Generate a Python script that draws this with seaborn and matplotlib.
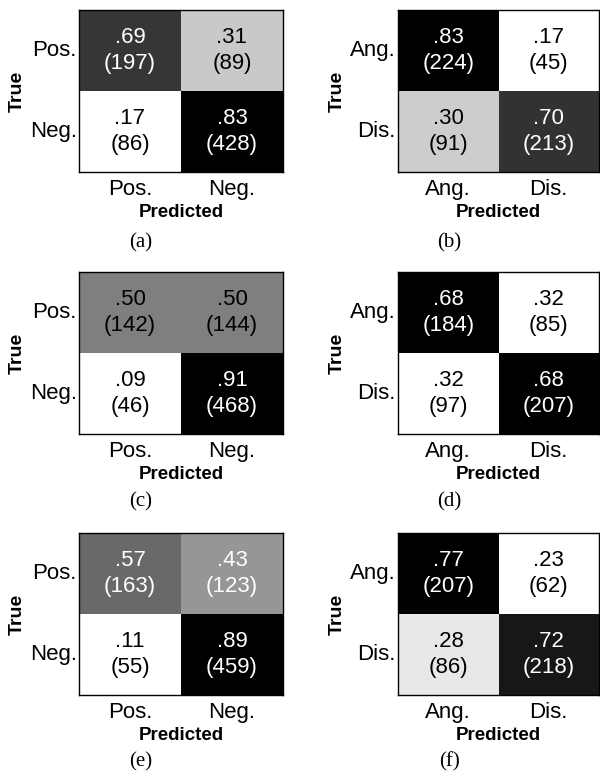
import numpy as np
import matplotlib
matplotlib.use("Agg")
import matplotlib.pyplot as plt
import seaborn as sns

sns.set_style("white")
plt.rcParams['font.family'] = ['Liberation Sans', 'DejaVu Sans']
plt.rcParams['text.color'] = 'black'
plt.rcParams['axes.labelcolor'] = 'black'

# class names
sent_labels = ["Pos.", "Neg."]
emo_labels = ["Ang.", "Dis."]

# rates and counts per panel (rows = true, cols = predicted)
rates_a = [[.69, .31], [.17, .83]]
counts_a = [[197, 89], [86, 428]]
rates_b = [[.83, .17], [.30, .70]]
counts_b = [[224, 45], [91, 213]]
rates_c = [[.50, .50], [.09, .91]]
counts_c = [[142, 144], [46, 468]]
rates_d = [[.68, .32], [.32, .68]]
counts_d = [[184, 85], [97, 207]]
rates_e = [[.57, .43], [.11, .89]]
counts_e = [[163, 123], [55, 459]]
rates_f = [[.77, .23], [.28, .72]]
counts_f = [[207, 62], [86, 218]]

captions = ["(a)", "(b)", "(c)", "(d)", "(e)", "(f)"]

# which cells get white text
white_a = [[1, 0], [0, 1]]
white_b = [[1, 0], [0, 1]]
white_c = [[0, 0], [0, 1]]
white_d = [[1, 0], [0, 1]]
white_e = [[1, 1], [0, 1]]
white_f = [[1, 0], [0, 1]]

panels = [
    (rates_a, counts_a, sent_labels, white_a),
    (rates_b, counts_b, emo_labels, white_b),
    (rates_c, counts_c, sent_labels, white_c),
    (rates_d, counts_d, emo_labels, white_d),
    (rates_e, counts_e, sent_labels, white_e),
    (rates_f, counts_f, emo_labels, white_f),
]

W, H = 600, 778
fig = plt.figure(figsize=(6, 7.78), dpi=100)

col_x = [79, 398]
col_w = [204, 201]
row_top = [10, 272, 533]
row_h = 162
cap_x = [141, 449]
cap_y = [243, 502, 762]

for i, (rates, counts, labels, white) in enumerate(panels):
    r, c = divmod(i, 2)
    x0 = col_x[c]
    y0 = row_top[r]
    ax = fig.add_axes([x0 / W, 1 - (y0 + row_h) / H, col_w[c] / W, row_h / H])
    rates = np.array(rates)
    annot = np.array([[f"{v:.2f}"[1:] + f"\n({n})" for v, n in zip(rv, rn)]
                      for rv, rn in zip(rates, counts)])
    sns.heatmap(rates, ax=ax, cmap="gray_r", vmin=rates.min(), vmax=rates.max(),
                cbar=False, annot=annot, fmt="", square=False,
                xticklabels=labels, yticklabels=labels,
                annot_kws={"fontsize": 16, "linespacing": 1.3})
    k = 0
    for rr in range(2):
        for cc in range(2):
            ax.texts[k].set_color("white" if white[rr][cc] else "black")
            k += 1
    for sp in ax.spines.values():
        sp.set_visible(True)
        sp.set_linewidth(1.0)
        sp.set_color("black")
    ax.tick_params(direction="in", length=3, width=0.6, top=True, right=True,
                   bottom=True, left=True, labelsize=16, colors="black")
    ax.tick_params(axis="x", pad=5)
    ax.tick_params(axis="y", pad=1.5)
    ax.set_yticklabels(labels, rotation=0, va="center")
    ax.set_xticklabels(labels, rotation=0)
    ax.set_xlabel("Predicted", fontsize=13.5, fontweight="bold", labelpad=3)
    ax.set_ylabel("True", fontsize=14, fontweight="bold", labelpad=3)
    fig.text(cap_x[c] / W, 1 - cap_y[r] / H, captions[i], ha="center", va="center",
             fontsize=15, family="Liberation Serif")

fig.savefig("out.png", dpi=100)
